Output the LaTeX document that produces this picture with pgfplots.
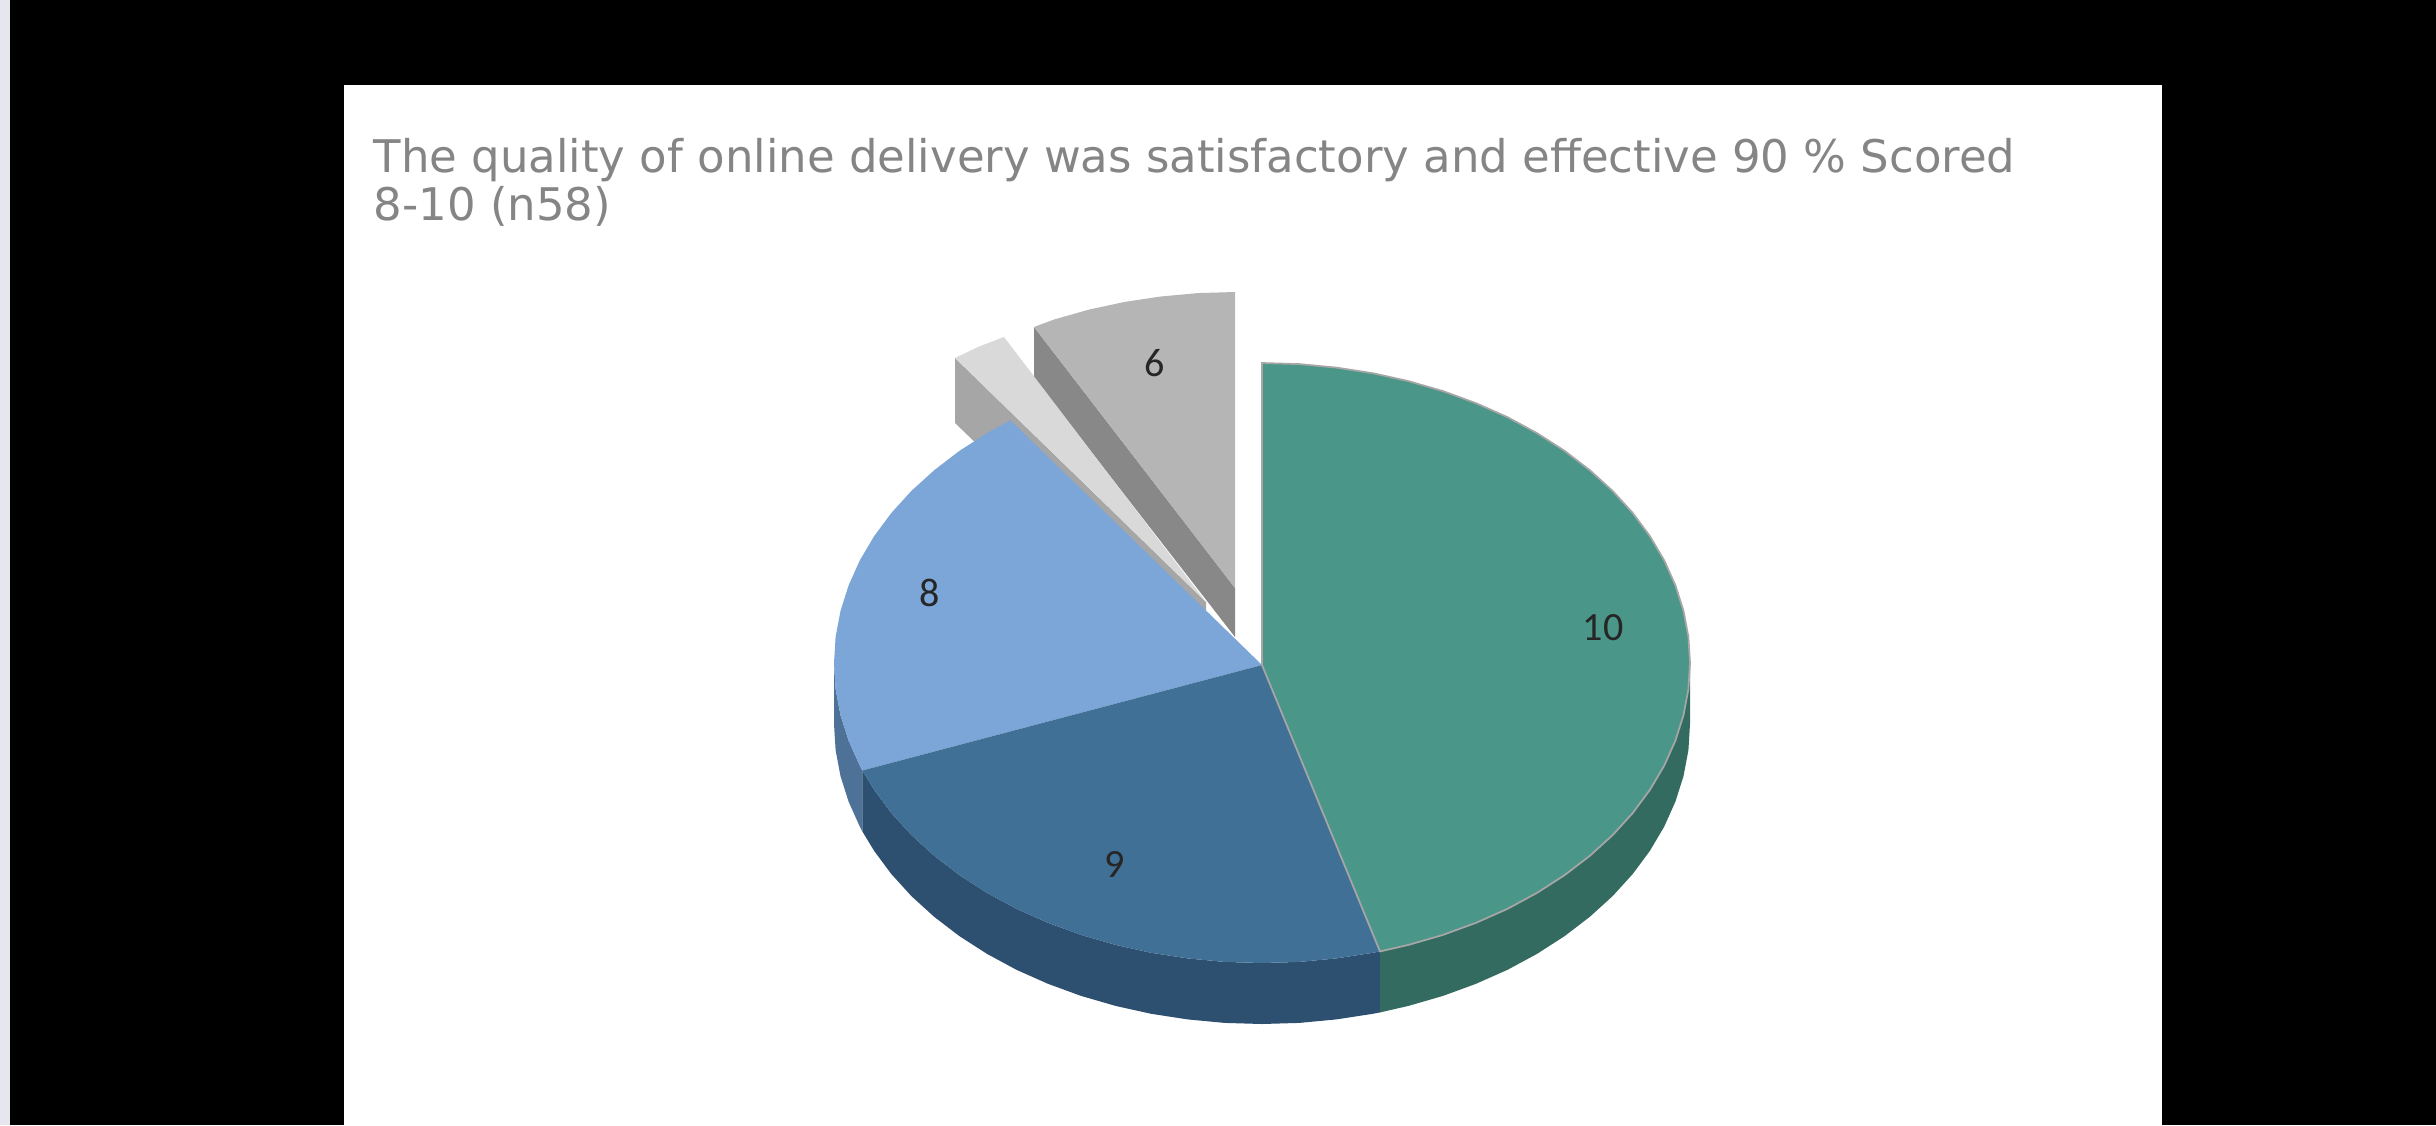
\documentclass[border=0pt]{standalone}
\usepackage{pgfplots}
\pgfplotsset{compat=1.18}
\usepackage{fontspec}
\setmainfont{DejaVu Sans}
\newfontfamily\labelfont{Carlito}

% axis units are the pixels of the screenshot, y runs downwards
\definecolor{stripc}{HTML}{E6E6EE}
\definecolor{titlec}{HTML}{858585}
\definecolor{greentop}{HTML}{4A9688}
\definecolor{greenside}{HTML}{346B60}
\definecolor{navytop}{HTML}{417097}
\definecolor{navyside}{HTML}{2E5070}
\definecolor{bluetop}{HTML}{7CA5D8}
\definecolor{blueside}{HTML}{4E7198}
\definecolor{palegrey}{HTML}{D9D9D9}
\definecolor{palewall}{HTML}{A6A6A6}
\definecolor{midgrey}{HTML}{B5B5B5}
\definecolor{midwall}{HTML}{888888}

\begin{document}
\begin{tikzpicture}
  \begin{axis}[
    scale only axis,
    width=24.36cm,
    height=11.25cm,
    xmin=0, xmax=2436,
    ymin=0, ymax=1125,
    y dir=reverse,
    hide axis,
    every axis plot/.append style={no marks, draw=none, forget plot},
  ]
    % background
    \addplot[fill=black] coordinates {(0,0) (2436,0) (2436,1125) (0,1125)};
    \addplot[fill=stripc] coordinates {(0,0) (10,0) (10,1125) (0,1125)};
    \addplot[fill=white] coordinates {(344,85) (2162,85) (2162,1125) (344,1125)};

    % slice 6, pulled out
    \addplot[fill=midwall] coordinates {(1034,327) (1235,588) (1235,637) (1034,378)};
    \addplot[fill=midgrey] coordinates {
      (1235,588) (1235,292) (1197.7,293.1) (1160.7,296.5) (1124.2,302)
      (1088.6,309.7) (1054.1,319.5) (1034,327)};

    % slice 7, pulled out
    \addplot[fill=palewall] coordinates {(955,358) (1206,602) (1206,664) (955,423)};
    \addplot[fill=palegrey] coordinates {(1206,602) (955,358) (979,346.5) (1004,337)};

    % sides of the pie
    \addplot[fill=blueside] coordinates {
      (834,663) (835.6,689.1) (840.5,715.1) (848.6,740.6) (859.8,765.6) (862.4,770.5)
      (862.4,831.5) (859.8,826.6) (848.6,801.6) (840.5,776.1) (835.6,750.1) (834,724)};
    \addplot[fill=navyside] coordinates {
      (1380,951.4) (1372.8,952.8) (1336.3,958.4) (1299.3,961.9) (1262,963)
      (1224.7,961.9) (1187.7,958.4) (1151.2,952.8) (1115.6,944.9) (1081.1,934.9)
      (1048,922.8) (1016.5,908.8) (986.9,892.8) (959.4,875.1) (934.2,855.8)
      (911.4,835.1) (891.3,813) (874.1,789.8) (862.4,770.5)
      (862.4,831.5) (874.1,850.8) (891.3,874) (911.4,896.1) (934.2,916.8)
      (959.4,936.1) (986.9,953.8) (1016.5,969.8) (1048,983.8) (1081.1,995.9)
      (1115.6,1005.9) (1151.2,1013.8) (1187.7,1019.4) (1224.7,1022.9) (1262,1024)
      (1299.3,1022.9) (1336.3,1019.4) (1372.8,1013.8) (1380,1012.4)};
    \addplot[fill=greenside] coordinates {
      (1690,663) (1688.4,689.1) (1683.5,715.1) (1675.4,740.6) (1664.2,765.6)
      (1649.9,789.8) (1632.7,813) (1612.6,835.1) (1589.8,855.8) (1564.6,875.1)
      (1537.1,892.8) (1507.5,908.8) (1476,922.8) (1442.9,934.9) (1408.4,944.9)
      (1380,951.4)
      (1380,1012.4) (1408.4,1005.9) (1442.9,995.9) (1476,983.8) (1507.5,969.8)
      (1537.1,953.8) (1564.6,936.1) (1589.8,916.8) (1612.6,896.1) (1632.7,874)
      (1649.9,850.8) (1664.2,826.6) (1675.4,801.6) (1683.5,776.1) (1688.4,750.1)
      (1690,724)};

    % slice 8
    \addplot[fill=bluetop] coordinates {
      (1262,665) (862.4,770.5) (859.8,765.6) (848.6,740.6) (840.5,715.1) (835.6,689.1)
      (834,663) (835.6,636.9) (840.5,610.9) (848.6,585.4) (859.8,560.4) (874.1,536.2)
      (891.3,513) (911.4,490.9) (934.2,470.2) (959.4,450.9) (986.9,433.2) (1010.4,420.3)};

    % slice 9
    \addplot[fill=navytop] coordinates {
      (1262,665) (1380,951.4) (1372.8,952.8) (1336.3,958.4) (1299.3,961.9) (1262,963)
      (1224.7,961.9) (1187.7,958.4) (1151.2,952.8) (1115.6,944.9) (1081.1,934.9)
      (1048,922.8) (1016.5,908.8) (986.9,892.8) (959.4,875.1) (934.2,855.8)
      (911.4,835.1) (891.3,813) (874.1,789.8) (862.4,770.5)};

    % slice 10
    \addplot[fill=greentop, draw=black!35, line width=0.5pt] coordinates {
      (1262,665) (1262,363) (1299.3,364.1) (1336.3,367.6) (1372.8,373.2) (1408.4,381.1)
      (1442.9,391.1) (1476,403.2) (1507.5,417.2) (1537.1,433.2) (1564.6,450.9)
      (1589.8,470.2) (1612.6,490.9) (1632.7,513) (1649.9,536.2) (1664.2,560.4)
      (1675.4,585.4) (1683.5,610.9) (1688.4,636.9) (1690,663) (1688.4,689.1)
      (1683.5,715.1) (1675.4,740.6) (1664.2,765.6) (1649.9,789.8) (1632.7,813)
      (1612.6,835.1) (1589.8,855.8) (1564.6,875.1) (1537.1,892.8) (1507.5,908.8)
      (1476,922.8) (1442.9,934.9) (1408.4,944.9) (1380,951.4) (1262,665)};

    % title and slice labels
    \node[anchor=base west, text=titlec, font=\fontsize{12.8}{14}\selectfont, inner sep=0pt]
      at (axis cs:373,172) {The quality of online delivery was satisfactory and effective 90 \% Scored};
    \node[anchor=base west, text=titlec, font=\fontsize{12.8}{14}\selectfont, inner sep=0pt]
      at (axis cs:373,220) {8-10 (n58)};
    \node[font=\labelfont\fontsize{11.4}{13}\selectfont, text=black!85] at (axis cs:1155,363) {6};
    \node[font=\labelfont\fontsize{11.4}{13}\selectfont, text=black!85] at (axis cs:930,593) {8};
    \node[font=\labelfont\fontsize{11.4}{13}\selectfont, text=black!85] at (axis cs:1115,864) {9};
    \node[font=\labelfont\fontsize{11.4}{13}\selectfont, text=black!85] at (axis cs:1603,628) {10};
  \end{axis}
\end{tikzpicture}
\end{document}
